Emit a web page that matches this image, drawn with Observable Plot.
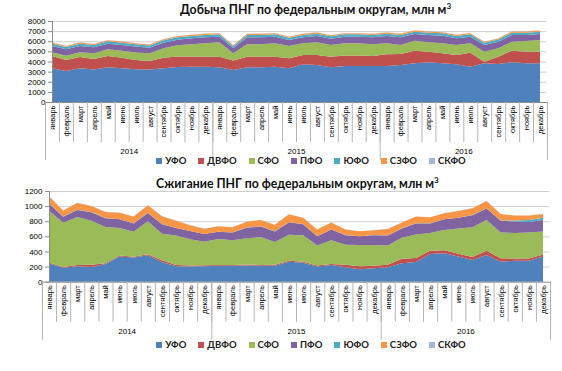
<!DOCTYPE html>
<html><head><meta charset="utf-8">
<script src="https://cdn.jsdelivr.net/npm/d3@7"></script>
<script src="https://cdn.jsdelivr.net/npm/@observablehq/plot@0.6"></script>
<style>
body{margin:0;background:#fff;font-family:"Liberation Sans",Arial,sans-serif;}
#wrap{position:relative;width:562px;height:371px;overflow:hidden;}
.title{position:absolute;text-align:center;font-family:Lato,"Open Sans",sans-serif;font-weight:bold;font-size:12.3px;color:#111;white-space:nowrap;}
.legend{position:absolute;left:0;width:562px;box-sizing:border-box;padding-left:60px;display:flex;justify-content:center;gap:12px;font-family:Lato,sans-serif;font-weight:bold;font-size:9.5px;color:#222;}
.legend span.sw{display:inline-block;width:6px;height:6px;margin-right:3px;vertical-align:middle;position:relative;top:-1px;}
.plot{position:absolute;left:0;}
</style></head>
<body><div id="wrap"></div>
<script>
const months = ["январь","февраль","март","апрель","май","июнь","июль","август","сентябрь","октябрь","ноябрь","декабрь"];
const years = ["2014","2015","2016"];
const series = ["УФО","ДВФО","СФО","ПФО","ЮФО","СЗФО","СКФО"];
const colors = ["#4f81bd","#c0504d","#9bbb59","#8064a2","#4bacc6","#f79646","#a5b6d9"];
const titleTop = "Добыча ПНГ по федеральным округам, млн м";
const titleBottom = "Сжигание ПНГ по федеральным округам, млн м";

// Добыча ПНГ, млн м3 (янв 2014 – дек 2016)
const prodUFO  = [3330,3060,3330,3200,3430,3330,3230,3200,3330,3450,3490,3490, 3425,3160,3425,3425,3490,3325,3720,3655,3425,3556,3556,3556, 3556,3655,3820,3920,3820,3720,3490,3820,3755,3920,3820,3820];
const prodDVFO = [1215,1090,1120,1050,1120,1050,920,850,1050,1050,990,990, 1055,940,1055,1055,990,990,925,990,1055,1025,1025,990, 1155,1085,1250,1050,990,925,1385,165,725,1150,1150,1150];
const prodSFO  = [365,430,460,560,650,690,730,760,920,1100,1220,1320, 1420,710,1220,1220,1320,1225,1155,1255,1160,1220,1220,1155, 1090,900,990,930,990,995,925,985,820,890,1060,1155];
const prodPFO  = [620,620,620,590,560,560,590,550,560,560,590,590, 555,490,690,690,655,585,590,620,615,655,655,690, 720,750,660,720,755,650,655,670,660,660,590,595];
const prodUUFO = [230,220,230,230,230,230,230,220,230,230,230,230, 230,210,230,230,230,220,230,230,230,230,230,230, 230,230,230,230,230,230,230,200,210,230,230,230];
const prodSZFO = [110,100,110,110,110,110,110,100,110,110,110,110, 110,100,110,110,110,100,110,110,110,110,110,110, 110,110,110,110,110,110,110,100,100,110,110,110];
const prodSKFO = [25,25,25,25,25,25,25,25,25,25,25,25, 25,25,25,25,25,25,25,25,25,25,25,25, 25,25,25,25,25,25,25,25,25,25,25,25];

// Сжигание ПНГ, млн м3
const flareUFO  = [245,185,205,195,235,335,320,350,260,205,200,205, 210,210,215,210,210,265,250,200,220,190,165,177, 190,243,260,366,375,335,287,353,265,276,276,335];
const flareDVFO = [10,8,15,28,10,10,10,12,25,15,15,12, 12,12,12,12,15,12,15,15,15,35,40,35, 35,60,55,45,40,35,40,55,45,30,30,25];
const flareSFO  = [685,587,635,582,480,365,330,438,350,390,345,313, 343,328,348,368,300,343,350,265,315,265,280,273, 255,277,310,234,270,335,393,407,340,339,344,305];
const flarePFO  = [95,80,95,115,115,115,110,110,125,100,110,100, 95,100,140,140,140,165,145,120,140,125,115,130, 130,125,145,125,140,140,160,155,155,150,140,150];
const flareUUFO = [2,2,2,2,2,2,2,2,2,2,2,2, 2,2,2,2,2,2,2,2,2,2,2,2, 2,2,2,2,2,2,2,2,5,15,25,30];
const flareSZFO = [95,80,90,80,80,85,90,100,105,95,75,70, 70,70,75,85,85,105,85,90,90,75,65,65, 85,75,90,80,80,90,90,95,85,65,60,50];
const flareSKFO = [2,2,2,2,2,2,2,2,2,2,2,2, 2,2,2,2,2,2,2,2,2,2,2,2, 2,2,2,2,2,2,2,2,2,2,2,2];

const prodSeries = [prodUFO,prodDVFO,prodSFO,prodPFO,prodUUFO,prodSZFO,prodSKFO];
const flareSeries = [flareUFO,flareDVFO,flareSFO,flarePFO,flareUUFO,flareSZFO,flareSKFO];

function longForm(arrs){
  const out=[];
  arrs.forEach((a,k)=>a.forEach((v,i)=>out.push({i, s: series[k], v})));
  return out;
}

const wrap = document.getElementById("wrap");
const FONT = "Liberation Sans, Arial, sans-serif";

function makeChart({data, yMax, yStep, top, height, marginTop, marginBottom, marginLeft, marginRight}){
  const n = 36;
  const seps = d3.range(n+1).map(k=>k-0.5);
  const yearSeps = [-0.5, 11.5, 23.5, 35.5];
  const p = Plot.plot({
    width: 562, height, marginTop, marginBottom, marginLeft, marginRight,
    x: {type: "linear", domain: [0, n-1], axis: null},
    y: {domain: [0, yMax], axis: null},
    color: {domain: series, range: colors},
    style: {background: "transparent", overflow: "visible"},
    marks: [
      Plot.ruleY(d3.range(yStep, yMax+1, yStep), {x1: 0, x2: 35.45, stroke: "#cfcfcf", strokeWidth: 1}),
      Plot.areaY(data, {x: "i", y: "v", fill: "s", order: series, curve: "linear"}),
      Plot.ruleX([0], {stroke: "#8c8c8c"}),
      Plot.ruleY([0], {x1: -0.5, x2: 35.5, stroke: "#8c8c8c"}),
      Plot.axisY({ticks: d3.range(0, yMax+1, yStep), tickSize: 4, tickPadding: 3, tickFormat: d=>String(d), label: null, stroke: "#8c8c8c", fontSize: 8, fontFamily: FONT}),
      Plot.axisX({ticks: seps, tickSize: 40, tickFormat: ()=>"", label: null, stroke: "#b5b5b5"}),
      Plot.axisX({ticks: yearSeps, tickSize: 58, tickFormat: ()=>"", label: null, stroke: "#b5b5b5"}),
      Plot.axisX({ticks: d3.range(n), tickSize: 0, tickPadding: 3, tickRotate: -90, tickFormat: i=>months[i%12], label: null, fontSize: 7.5, fontFamily: FONT}),
      Plot.axisX({ticks: [5.5, 17.5, 29.5], tickSize: 0, tickPadding: 46, tickFormat: d=>years[Math.floor(d/12)], label: null, fontSize: 8, fontFamily: FONT})
    ]
  });
  p.classList.add("plot");
  p.style.top = top + "px";
  wrap.appendChild(p);
}

function addTitle(text, top, left){
  const d = document.createElement("div");
  d.className = "title"; d.style.top = top + "px"; d.style.left = left + "px";
  d.innerHTML = text + "<sup style='font-size:8px'>3</sup>";
  wrap.appendChild(d);
}
function addLegend(top){
  const d = document.createElement("div");
  d.className = "legend"; d.style.top = top + "px";
  series.forEach((s,k)=>{
    const it = document.createElement("span");
    it.innerHTML = `<span class="sw" style="background:${colors[k]}"></span>${s}`;
    d.appendChild(it);
  });
  wrap.appendChild(d);
}

addTitle(titleTop, 1, 180);
makeChart({data: longForm(prodSeries), yMax: 8000, yStep: 1000, top: 0, height: 172, marginTop: 21, marginBottom: 70, marginLeft: 52, marginRight: 22});
addLegend(155);

addTitle(titleBottom, 175, 156);
makeChart({data: longForm(flareSeries), yMax: 1200, yStep: 200, top: 170, height: 175, marginTop: 21, marginBottom: 63.3, marginLeft: 49, marginRight: 19});
addLegend(339);
</script>
</body></html>
